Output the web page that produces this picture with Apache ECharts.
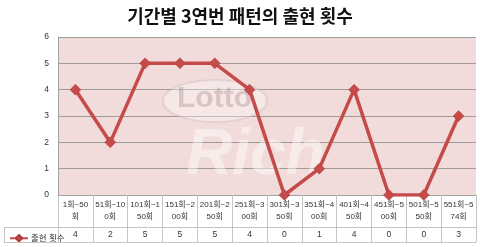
<!DOCTYPE html>
<html><head><meta charset="utf-8">
<script src="https://cdn.jsdelivr.net/npm/echarts@6/dist/echarts.min.js"></script>
<style>html,body{margin:0;padding:0;background:#fff}#c{width:480px;height:247px}</style>
</head><body><div id="c"></div>
<script>
var titleText = '기간별 3연번 패턴의 출현 횟수';
var seriesName = '출현 횟수';
var categories = ['1회~50\n회','51회~10\n0회','101회~1\n50회','151회~2\n00회','201회~2\n50회','251회~3\n00회','301회~3\n50회','351회~4\n00회','401회~4\n50회','451회~5\n00회','501회~5\n50회','551회~5\n74회'];
var counts = [4, 2, 5, 5, 5, 4, 0, 1, 4, 0, 0, 3];
var yTicks = {min: 0, max: 6, interval: 1};

var FONT = '"Noto Sans CJK KR", "Noto Sans", sans-serif';
var SMALL = '"Liberation Sans Narrow", "Liberation Sans", "Noto Sans CJK KR", sans-serif';
var tableLine = '#c4c4c4';
var chart = echarts.init(document.getElementById('c'), null, {renderer: 'canvas'});
chart.setOption({
  animation: false,
  backgroundColor: '#ffffff',
  title: {
    text: titleText, left: 'center', top: 2,
    textStyle: {fontFamily: FONT, fontSize: 18, fontWeight: 'bold', color: '#111'}
  },
  legend: {
    data: [seriesName], left: 4, top: 229, itemWidth: 18, itemHeight: 8, itemGap: 2,
    textStyle: {fontFamily: SMALL, fontSize: 8.5, color: '#333', padding: [0,0,0,-2]}
  },
  grid: {left: 58, right: 4, top: 37, bottom: 52, show: true, backgroundColor: '#f2dcdb', borderWidth: 0},
  xAxis: [{
    type: 'category', data: categories, boundaryGap: true,
    axisLine: {show: true, lineStyle: {color: '#a0a0a0'}},
    axisTick: {show: true, interval: 0, length: 47, lineStyle: {color: tableLine}},
    axisLabel: {interval: 0, margin: 4, fontFamily: SMALL, fontSize: 8, lineHeight: 12, color: '#333'},
    splitLine: {show: false}
  }, {
    type: 'category', data: categories, position: 'bottom', offset: 32, boundaryGap: true,
    axisLine: {show: true, lineStyle: {color: tableLine}},
    axisTick: {show: false},
    axisLabel: {interval: 0, margin: 3, fontFamily: SMALL, fontSize: 8.5, color: '#333',
      formatter: function (v, i) { return String(counts[i]); }}
  }, {
    type: 'category', data: categories, position: 'bottom', offset: 47,
    axisLine: {show: true, lineStyle: {color: tableLine}},
    axisTick: {show: false}, axisLabel: {show: false}
  }],
  yAxis: {
    type: 'value', min: yTicks.min, max: yTicks.max, interval: yTicks.interval,
    axisLine: {show: true, lineStyle: {color: '#a0a0a0'}},
    axisTick: {show: false},
    axisLabel: {margin: 9, fontFamily: SMALL, fontSize: 8.5, color: '#333'},
    splitLine: {show: true, lineStyle: {color: '#a09a9a', width: 1}}
  },
  graphic: [
    {type: 'ellipse', z: 1, shape: {cx: 215, cy: 101, rx: 52, ry: 21},
      style: {fill: 'rgba(255,255,255,0.35)', stroke: 'rgba(200,180,180,0.35)', lineWidth: 2}},
    {type: 'text', z: 1, x: 177, y: 84,
      style: {text: 'Lotto', font: 'bold 30px "Liberation Sans", Arial, sans-serif', fill: 'rgba(160,130,130,0.35)'}},
    {type: 'text', z: 1, x: 186, y: 124,
      style: {text: 'Rich', font: 'italic bold 64px "Liberation Sans", Arial, sans-serif', fill: 'rgba(255,255,255,0.45)',
        shadowColor: 'rgba(150,110,110,0.25)', shadowBlur: 4, shadowOffsetX: 2, shadowOffsetY: 2}},
    {type: 'line', z: 5, shape: {x1: 4, y1: 227.5, x2: 58, y2: 227.5}, style: {stroke: tableLine, lineWidth: 1}},
    {type: 'line', z: 5, shape: {x1: 4, y1: 242.5, x2: 58, y2: 242.5}, style: {stroke: tableLine, lineWidth: 1}},
    {type: 'line', z: 5, shape: {x1: 4.5, y1: 227.5, x2: 4.5, y2: 242.5}, style: {stroke: tableLine, lineWidth: 1}}
  ],
  series: [{
    name: seriesName, type: 'line', data: counts, xAxisIndex: 0,
    symbol: 'diamond', symbolSize: 11,
    lineStyle: {color: '#c54b4b', width: 3.5},
    itemStyle: {color: '#c54b4b', borderColor: '#b03a3a', borderWidth: 0.5},
    z: 3
  }]
});
</script></body></html>
